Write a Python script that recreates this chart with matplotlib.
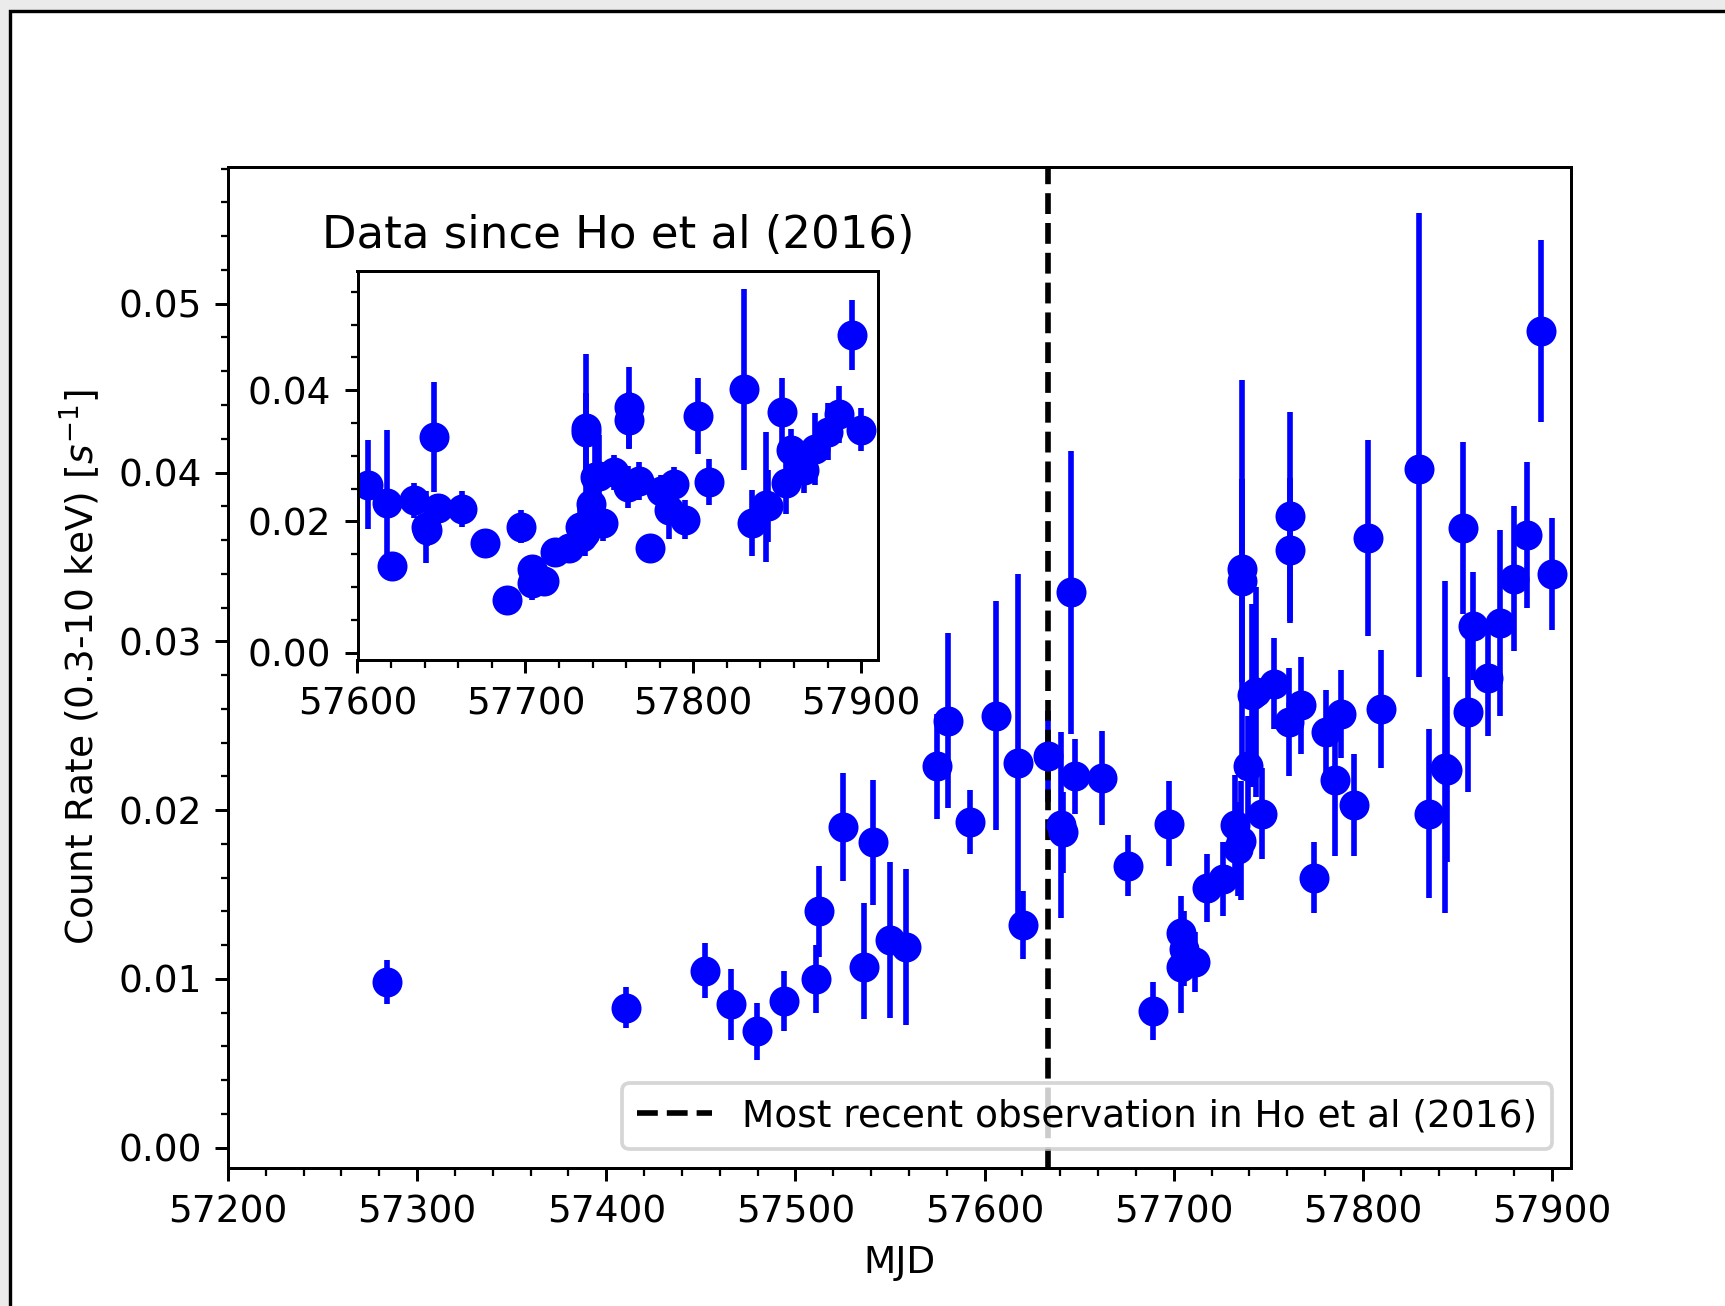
# Light curve of count rate vs MJD, with an inset showing data since Ho et al (2016)

import matplotlib
matplotlib.use('Agg')
import matplotlib.pyplot as plt
from matplotlib.patches import Rectangle

# observation dates (MJD), count rates and lower/upper errors
mjd = [57284.3, 57410.2, 57452.0, 57466.0, 57479.5, 57494.0, 57510.6, 57512.5,
       57525.0, 57536.2, 57540.9, 57550.2, 57558.4, 57574.7, 57580.6, 57592.3,
       57606.2, 57617.4, 57620.5, 57633.7, 57640.5, 57641.4, 57645.5, 57648.0,
       57662.0, 57675.9, 57688.9, 57697.6, 57703.7, 57705.6, 57703.7, 57711.2,
       57717.6, 57726.0, 57732.6, 57733.8, 57735.3, 57735.9, 57735.9, 57739.0,
       57741.5, 57743.6, 57746.4, 57752.9, 57760.9, 57761.7, 57761.7, 57767.4,
       57774.2, 57780.7, 57785.4, 57788.5, 57795.2, 57802.8, 57809.5, 57829.9,
       57834.8, 57843.5, 57844.2, 57852.9, 57855.3, 57858.1, 57866.1, 57872.6,
       57880.0, 57886.8, 57894.3, 57900.1]
rate = [0.0098, 0.0083, 0.0105, 0.0085, 0.0069, 0.0087, 0.0100, 0.0140,
        0.0190, 0.0107, 0.0181, 0.0123, 0.0119, 0.0226, 0.0253, 0.0193,
        0.0256, 0.0228, 0.0132, 0.0232, 0.0191, 0.0187, 0.0329, 0.0220,
        0.0219, 0.0167, 0.0081, 0.0192, 0.0127, 0.0118, 0.0107, 0.0110,
        0.0154, 0.0159, 0.0191, 0.0177, 0.0182, 0.0343, 0.0336, 0.0226,
        0.0268, 0.0270, 0.0198, 0.0275, 0.0252, 0.0374, 0.0354, 0.0262,
        0.0160, 0.0246, 0.0218, 0.0257, 0.0203, 0.0361, 0.0260, 0.0402,
        0.0198, 0.0225, 0.0224, 0.0367, 0.0258, 0.0309, 0.0278, 0.0311,
        0.0337, 0.0363, 0.0484, 0.0340]
err_lo = [0.0013, 0.0012, 0.0016, 0.0021, 0.0017, 0.0018, 0.0020, 0.0027,
          0.0032, 0.0031, 0.0037, 0.0046, 0.0046, 0.0031, 0.0052, 0.0019,
          0.0068, 0.0092, 0.0020, 0.0027, 0.0055, 0.0024, 0.0084, 0.0022,
          0.0028, 0.0018, 0.0017, 0.0025, 0.0022, 0.0022, 0.0027, 0.0018,
          0.0020, 0.0022, 0.0030, 0.0028, 0.0035, 0.0112, 0.0060, 0.0030,
          0.0054, 0.0062, 0.0027, 0.0027, 0.0032, 0.0062, 0.0043, 0.0029,
          0.0021, 0.0025, 0.0045, 0.0026, 0.0030, 0.0058, 0.0035, 0.0123,
          0.0050, 0.0086, 0.0055, 0.0051, 0.0047, 0.0032, 0.0034, 0.0055,
          0.0043, 0.0043, 0.0054, 0.0033]
err_hi = [0.0013, 0.0012, 0.0016, 0.0021, 0.0017, 0.0018, 0.0020, 0.0027,
          0.0032, 0.0038, 0.0037, 0.0046, 0.0046, 0.0031, 0.0052, 0.0019,
          0.0068, 0.0112, 0.0020, 0.0027, 0.0055, 0.0024, 0.0084, 0.0022,
          0.0028, 0.0018, 0.0017, 0.0025, 0.0022, 0.0022, 0.0027, 0.0018,
          0.0020, 0.0022, 0.0030, 0.0028, 0.0035, 0.0112, 0.0060, 0.0030,
          0.0054, 0.0062, 0.0027, 0.0027, 0.0032, 0.0062, 0.0043, 0.0029,
          0.0021, 0.0025, 0.0045, 0.0026, 0.0030, 0.0058, 0.0035, 0.0152,
          0.0050, 0.0111, 0.0055, 0.0051, 0.0047, 0.0032, 0.0034, 0.0055,
          0.0043, 0.0043, 0.0054, 0.0033]

ho_last_mjd = 57633.6
inset_start = 57600

W, H, DPI = 1725, 1306, 270
fig = plt.figure(figsize=(W / DPI, H / DPI), dpi=DPI, facecolor='#ebebeb')

# white page with a black border (the shot is cropped on the right/bottom)
fig.patches.append(Rectangle((10 / W, -0.2), 1.2, 1.2 - 11 / H, transform=fig.transFigure,
                             facecolor='white', edgecolor='black', lw=0.9, zorder=-5))

ax = fig.add_axes([228 / W, (H - 1168) / H, 1343 / W, 1001 / H])
ax.errorbar(mjd, rate, yerr=[err_lo, err_hi], fmt='o', color='b', markersize=7)
ax.axvline(ho_last_mjd, color='k', linestyle='--',
           label='Most recent observation in Ho et al (2016)')
ax.set_xlim(57200, 57910)
ax.set_ylim(-0.0012, 0.0581)
ax.minorticks_on()
ax.ticklabel_format(useOffset=False)
ax.set_xlabel('MJD')
ax.set_ylabel('Count Rate (0.3-10 keV) [$s^{-1}$]')
ax.legend(loc='lower right')

# inset: only data after inset_start
keep = [i for i, m in enumerate(mjd) if m >= inset_start]
ins = fig.add_axes([357.5 / W, (H - 660) / H, 520.5 / W, 389.3 / H])
ins.errorbar([mjd[i] for i in keep], [rate[i] for i in keep],
             yerr=[[err_lo[i] for i in keep], [err_hi[i] for i in keep]],
             fmt='o', color='b', markersize=7)
ins.set_xlim(57600, 57910)
ins.set_ylim(-0.0011, 0.0582)
ins.set_yticks([0.0, 0.02, 0.04])
ins.minorticks_on()
ins.ticklabel_format(useOffset=False)
ins.set_title('Data since Ho et al (2016)')

fig.savefig('out.png', dpi=DPI, facecolor=fig.get_facecolor())
